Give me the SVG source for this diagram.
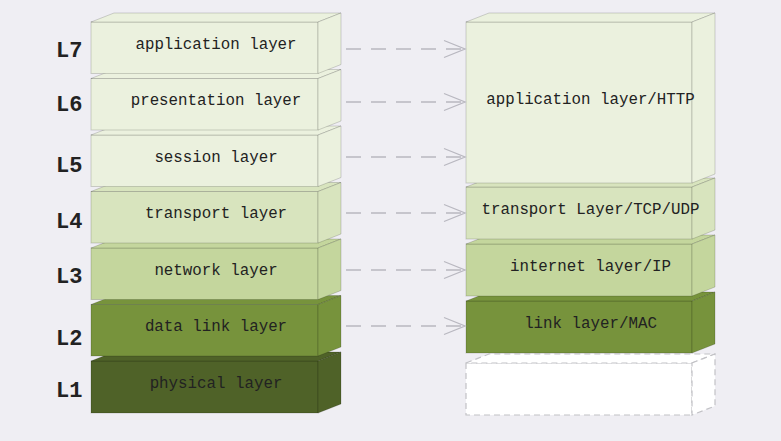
<svg xmlns="http://www.w3.org/2000/svg" width="781" height="441" viewBox="0 0 781 441">
<defs>
<style>
.bg{fill:#EFEEF3}
.box{stroke:rgba(0,0,0,0.16);stroke-width:1}
.c1{fill:#EBF1DE}.c4{fill:#D8E4BE}.c3{fill:#C4D69D}.c2{fill:#77933C}.c0{fill:#4F6228}
.dash{fill:#FFFFFF;stroke:#C2C2C6;stroke-width:1.2;stroke-dasharray:6 4}
.t{font-family:"Liberation Mono","DejaVu Sans Mono",monospace;font-size:15.8px;fill:#222;text-anchor:middle}
.lab{font-family:"Liberation Mono","DejaVu Sans Mono",monospace;font-size:22px;fill:#222;font-weight:bold}
.conn{fill:none;stroke:#B9B8C0;stroke-width:1.3;stroke-dasharray:15 10}
.head{fill:none;stroke:#B9B8C0;stroke-width:1.3}
</style>
</defs>
<rect class="bg" width="781" height="441"/>

<!-- left stack, drawn bottom up -->
<g id="L1">
<rect class="box c0" x="91" y="361" width="227" height="52"/>
<polygon class="box c0" points="91,361 114,352 341,352 318,361"/>
<polygon class="box c0" points="318,361 341,352 341,404 318,413"/>
<text class="t" x="216" y="388">physical layer</text>
</g>
<g id="L2">
<rect class="box c2" x="91" y="304.5" width="227" height="51.5"/>
<polygon class="box c2" points="91,304.5 114,295.5 341,295.5 318,304.5"/>
<polygon class="box c2" points="318,304.5 341,295.5 341,347 318,356"/>
<text class="t" x="216" y="331.3">data link layer</text>
</g>
<g id="L3">
<rect class="box c3" x="91" y="248" width="227" height="51.5"/>
<polygon class="box c3" points="91,248 114,239 341,239 318,248"/>
<polygon class="box c3" points="318,248 341,239 341,290.5 318,299.5"/>
<text class="t" x="216" y="274.8">network layer</text>
</g>
<g id="L4">
<rect class="box c4" x="91" y="191.5" width="227" height="51.5"/>
<polygon class="box c4" points="91,191.5 114,182.5 341,182.5 318,191.5"/>
<polygon class="box c4" points="318,191.5 341,182.5 341,234 318,243"/>
<text class="t" x="216" y="218.3">transport layer</text>
</g>
<g id="L5">
<rect class="box c1" x="91" y="135" width="227" height="51.5"/>
<polygon class="box c1" points="91,135 114,126 341,126 318,135"/>
<polygon class="box c1" points="318,135 341,126 341,177.5 318,186.5"/>
<text class="t" x="216" y="161.8">session layer</text>
</g>
<g id="L6">
<rect class="box c1" x="91" y="78.5" width="227" height="51.5"/>
<polygon class="box c1" points="91,78.5 114,69.5 341,69.5 318,78.5"/>
<polygon class="box c1" points="318,78.5 341,69.5 341,121 318,130"/>
<text class="t" x="216" y="105.3">presentation layer</text>
</g>
<g id="L7">
<rect class="box c1" x="91" y="22" width="227" height="51.5"/>
<polygon class="box c1" points="91,22 114,13 341,13 318,22"/>
<polygon class="box c1" points="318,22 341,13 341,64.5 318,73.5"/>
<text class="t" x="216" y="48.8">application layer</text>
</g>

<!-- layer labels -->
<g id="labels">
<text class="lab" x="56" y="56.5">L7</text>
<text class="lab" x="56" y="111">L6</text>
<text class="lab" x="56" y="172">L5</text>
<text class="lab" x="56" y="228">L4</text>
<text class="lab" x="56" y="282.5">L3</text>
<text class="lab" x="56" y="345">L2</text>
<text class="lab" x="56" y="397">L1</text>
</g>

<!-- right stack, drawn bottom up -->
<g id="R1">
<rect class="dash" x="466" y="363" width="226" height="52"/>
<polygon class="dash" points="466,363 489,354 715,354 692,363"/>
<polygon class="dash" points="692,363 715,354 715,406 692,415"/>
</g>
<g id="R2">
<rect class="box c2" x="466" y="301" width="226" height="52"/>
<polygon class="box c2" points="466,301 489,292 715,292 692,301"/>
<polygon class="box c2" points="692,301 715,292 715,344 692,353"/>
<text class="t" x="590.5" y="328">link layer/MAC</text>
</g>
<g id="R3">
<rect class="box c3" x="466" y="244" width="226" height="52"/>
<polygon class="box c3" points="466,244 489,235 715,235 692,244"/>
<polygon class="box c3" points="692,244 715,235 715,287 692,296"/>
<text class="t" x="590.5" y="271">internet layer/IP</text>
</g>
<g id="R4">
<rect class="box c4" x="466" y="187" width="226" height="52"/>
<polygon class="box c4" points="466,187 489,178 715,178 692,187"/>
<polygon class="box c4" points="692,187 715,178 715,230 692,239"/>
<text class="t" x="590.5" y="214">transport Layer/TCP/UDP</text>
</g>
<g id="R5">
<rect class="box c1" x="466" y="22" width="226" height="161"/>
<polygon class="box c1" points="466,22 489,13 715,13 692,22"/>
<polygon class="box c1" points="692,22 715,13 715,174 692,183"/>
<text class="t" x="590.5" y="104">application layer/HTTP</text>
</g>

<!-- connectors -->
<g id="connectors">
<line class="conn" x1="346" y1="49" x2="463" y2="49"/>
<polyline class="head" points="444,40.5 465,49 444,57.5"/>
<line class="conn" x1="346" y1="102" x2="463" y2="102"/>
<polyline class="head" points="444,93.5 465,102 444,110.5"/>
<line class="conn" x1="346" y1="157" x2="463" y2="157"/>
<polyline class="head" points="444,148.5 465,157 444,165.5"/>
<line class="conn" x1="346" y1="213" x2="463" y2="213"/>
<polyline class="head" points="444,204.5 465,213 444,221.5"/>
<line class="conn" x1="346" y1="270" x2="463" y2="270"/>
<polyline class="head" points="444,261.5 465,270 444,278.5"/>
<line class="conn" x1="346" y1="326" x2="463" y2="326"/>
<polyline class="head" points="444,317.5 465,326 444,334.5"/>
</g>
</svg>
